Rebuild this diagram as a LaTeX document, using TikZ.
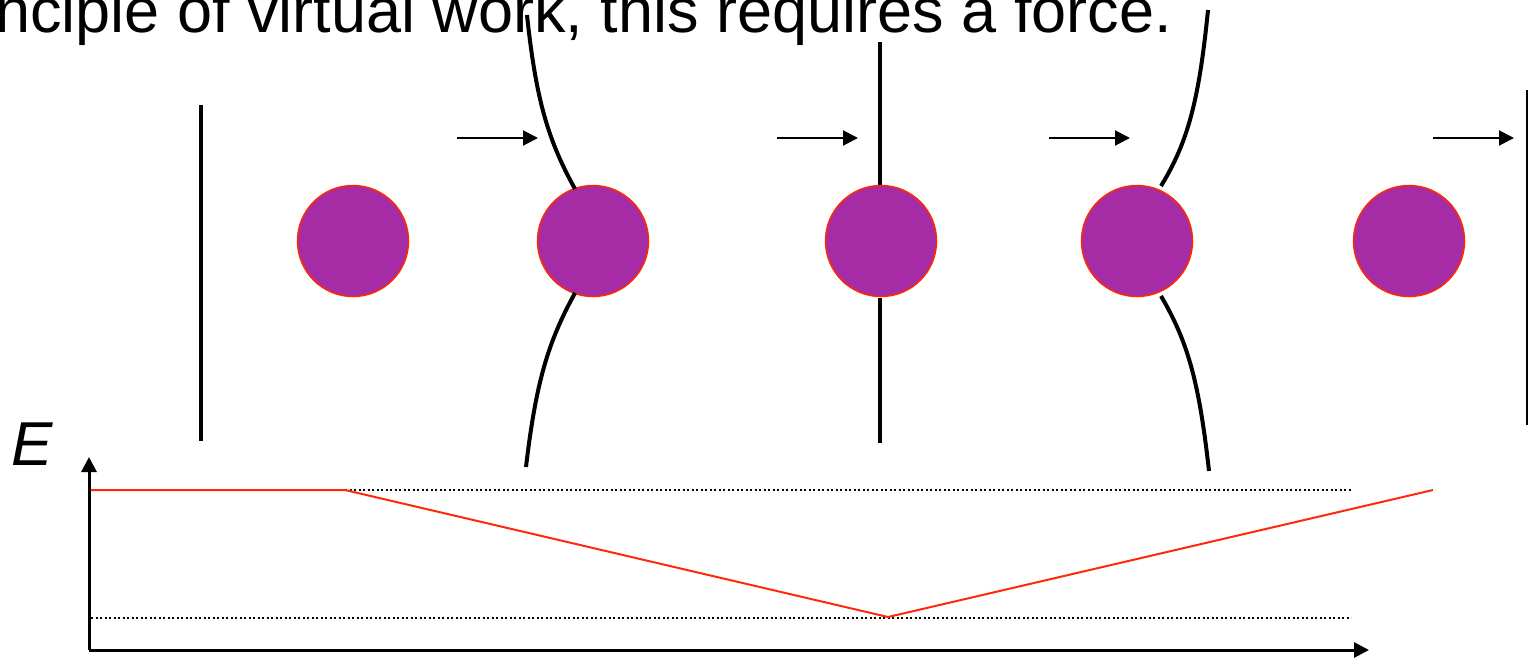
\documentclass[tikz,border=0pt]{standalone}
\usepackage{fontspec}
\setmainfont{Liberation Sans}
\usetikzlibrary{arrows.meta}
\definecolor{ballfill}{RGB}{165,44,165}
\definecolor{ballrim}{RGB}{255,40,0}
\definecolor{curvered}{RGB}{255,40,10}
\tikzset{
  ball/.style={circle,fill=ballfill,draw=ballrim,line width=1.5pt,minimum size=111pt,inner sep=0pt},
  bar/.style={line width=4pt},
  push/.style={line width=2pt,-{Triangle[length=15pt,width=15pt]}},
  axis/.style={line width=3pt,-{Triangle[length=15pt,width=15pt]}},
  guide/.style={line width=2pt,dash pattern=on 2pt off 2.5pt},
  energy/.style={line width=2pt,draw=curvered}
}
\begin{document}
\begin{tikzpicture}[x=1pt,y=-1pt]
\useasboundingbox (0,0) rectangle (1528,657);
% heading text (clipped at left in the reference)
\node[anchor=base east,inner sep=0pt,font=\fontsize{63}{70}\selectfont] (title) at (1172,32) {nciple of virtual work, this requires a force.};
% balls
\node[ball] (c1) at (353,241) {};
\node[ball] (c2) at (593,241) {};
\node[ball] (c3) at (881,241) {};
\node[ball] (c4) at (1137,241) {};
\node[ball] (c5) at (1409,241) {};
% walls / bars
\coordinate (w1t) at (201,105); \coordinate (w1b) at (201,441);
\draw[bar] (w1t) -- (w1b);
\coordinate (w5t) at (1527,90); \coordinate (w5b) at (1527,425);
\draw[line width=2pt] (w5t) -- (w5b);
\coordinate (m3t) at (880,42); \coordinate (m3a) at (880,185);
\coordinate (m3b) at (880,298); \coordinate (m3e) at (880,443);
\draw[bar] (m3t) -- (m3a);
\draw[bar] (m3b) -- (m3e);
% curved bars
\coordinate (b2t) at (527,15); \coordinate (b2a) at (575,189);
\coordinate (b2b) at (575,293); \coordinate (b2e) at (526,467);
\draw[bar] (b2t) .. controls (536,100) and (548,140) .. (b2a);
\draw[bar] (b2b) .. controls (548,342) and (536,382) .. (b2e);
\coordinate (b4t) at (1208,10); \coordinate (b4a) at (1161,186);
\coordinate (b4b) at (1161,296); \coordinate (b4e) at (1209,471);
\draw[bar] (b4t) .. controls (1199,100) and (1188,142) .. (b4a);
\draw[bar] (b4b) .. controls (1188,342) and (1199,382) .. (b4e);
% force arrows
\coordinate (a1s) at (457,138); \coordinate (a1e) at (538,138);
\coordinate (a2s) at (777,138); \coordinate (a2e) at (858,138);
\coordinate (a3s) at (1049,138); \coordinate (a3e) at (1130,138);
\coordinate (a4s) at (1433,138); \coordinate (a4e) at (1514,138);
\draw[push] (a1s) -- (a1e);
\draw[push] (a2s) -- (a2e);
\draw[push] (a3s) -- (a3e);
\draw[push] (a4s) -- (a4e);
% energy graph
\coordinate (o) at (89,650);
\coordinate (ytip) at (89,457);
\coordinate (xtip) at (1369,650);
\draw[axis] (o) -- (ytip);
\draw[axis] (o) -- (xtip);
\node[anchor=base west,inner sep=0pt,font=\fontsize{62}{70}\selectfont\itshape] (E) at (11,465) {E};
\coordinate (g1s) at (345,490); \coordinate (g1e) at (1351,490);
\coordinate (g2s) at (91,618); \coordinate (g2e) at (1351,618);
\draw[guide] (g1s) -- (g1e);
\draw[guide] (g2s) -- (g2e);
\coordinate (e0) at (91,490); \coordinate (e1) at (345,490);
\coordinate (e2) at (888,617); \coordinate (e3) at (1433,490);
\draw[energy] (e0) -- (e1) -- (e2) -- (e3);
\end{tikzpicture}
\end{document}
